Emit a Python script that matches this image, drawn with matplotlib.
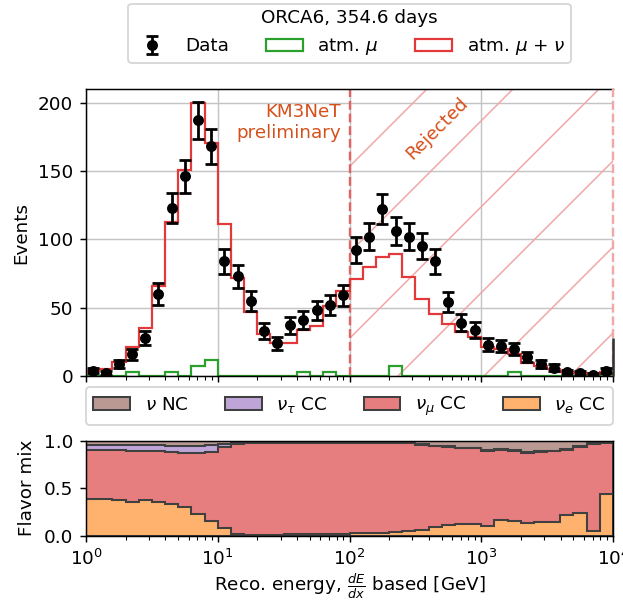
import numpy as np
import matplotlib
matplotlib.use('Agg')
import matplotlib.pyplot as plt
from matplotlib.patches import Patch
from matplotlib.colors import to_rgba

# 40 log bins between 1 GeV and 10 TeV
edges = np.logspace(0, 4, 41)
centers = np.sqrt(edges[:-1] * edges[1:])

# ===============================================
# DATA
# ===============================================
data_counts = [4, 2, 9, 16, 28, 60, 123, 146, 187, 168,
               84, 73, 55, 33, 24, 37, 41, 48, 52, 59,
               92, 102, 122, 106, 102, 95, 84, 54, 39, 34,
               23, 22, 20, 14, 9, 6, 3, 2, 1, 4]

atm_mu = [0, 0, 0, 3, 0, 0, 3, 0, 7, 12,
          0, 0, 0, 0, 0, 0, 3, 0, 3, 0,
          0, 0, 0, 7, 0, 0, 0, 0, 0, 0,
          0, 0, 3, 0, 0, 0, 0, 0, 0, 0]

atm_mu_nu = [4, 5.4, 10, 21.5, 35, 66, 112.6, 151, 200, 170.5,
             111, 72, 46.6, 30.8, 24, 24, 33.7, 36.6, 51, 62,
             71.3, 79.9, 87.4, 89.4, 72.3, 56.4, 45.4, 38.1, 32.5, 28.3,
             21.5, 19.5, 16, 9.8, 7.3, 4.9, 2.9, 2, 1.5, 2.9]

overflow = 28

frac_e = [0.390, 0.390, 0.382, 0.351, 0.382, 0.361, 0.337, 0.302, 0.228, 0.154,
          0.081, 0.025, 0.014, 0.008, 0.010, 0.020, 0.025, 0.025, 0.025, 0.025,
          0.028, 0.028, 0.030, 0.040, 0.055, 0.060, 0.091, 0.112, 0.123, 0.130,
          0.102, 0.172, 0.158, 0.137, 0.147, 0.147, 0.218, 0.239, 0.053, 0.435]
frac_mu = [0.508, 0.508, 0.516, 0.540, 0.513, 0.532, 0.547, 0.570, 0.639, 0.730,
           0.849, 0.943, 0.965, 0.970, 0.968, 0.958, 0.953, 0.953, 0.953, 0.953,
           0.950, 0.950, 0.948, 0.935, 0.915, 0.895, 0.849, 0.825, 0.796, 0.789,
           0.793, 0.733, 0.737, 0.733, 0.734, 0.741, 0.687, 0.694, 0.915, 0.540]
frac_tau = [0.060, 0.060, 0.057, 0.059, 0.055, 0.057, 0.062, 0.074, 0.079, 0.071,
            0.032, 0.010, 0.005, 0.005, 0.005, 0.005, 0.005, 0.005, 0.005, 0.005,
            0.005, 0.005, 0.005, 0.005, 0.005, 0.005, 0.005, 0.005, 0.005, 0.005,
            0.005, 0.005, 0.005, 0.005, 0.005, 0.005, 0.005, 0.005, 0.005, 0.005]
frac_nc = [0.042, 0.042, 0.045, 0.050, 0.050, 0.050, 0.054, 0.054, 0.054, 0.045,
           0.038, 0.022, 0.016, 0.017, 0.017, 0.017, 0.017, 0.017, 0.017, 0.017,
           0.017, 0.017, 0.017, 0.020, 0.025, 0.040, 0.055, 0.058, 0.076, 0.076,
           0.100, 0.090, 0.100, 0.125, 0.114, 0.107, 0.090, 0.062, 0.027, 0.020]

flavor_fracs = [frac_e, frac_mu, frac_tau, frac_nc]
flavor_labels = [r'$\nu_e$ CC', r'$\nu_\mu$ CC', r'$\nu_\tau$ CC', r'$\nu$ NC']
flavor_colors = ['tab:orange', 'tab:red', 'tab:purple', 'tab:brown']

# ===============================================
# FIGURE
# ===============================================
# small figure at high dpi -> wide hatch spacing like the original
DPI = 258
K = 132.5 / DPI  # size scale so fonts/lines keep their pixel size
W, H = 623, 602
plt.rcParams.update({
    'font.size': 10 * K,
    'hatch.linewidth': 0.8 * K,
    'axes.linewidth': 0.8 * K,
    'axes.labelpad': 4 * K,
    'xtick.major.size': 3.5 * K, 'xtick.minor.size': 2 * K,
    'ytick.major.size': 3.5 * K, 'ytick.minor.size': 2 * K,
    'xtick.major.width': 0.8 * K, 'xtick.minor.width': 0.6 * K,
    'ytick.major.width': 0.8 * K, 'ytick.minor.width': 0.6 * K,
    'xtick.major.pad': 3.5 * K, 'xtick.minor.pad': 3.4 * K,
    'ytick.major.pad': 3.5 * K, 'ytick.minor.pad': 3.4 * K,
    'legend.frameon': True,
    'patch.linewidth': 1.0 * K,
})

fig = plt.figure(figsize=(W / DPI, H / DPI), dpi=DPI)
ax = fig.add_axes([86 / W, 1 - 376 / H, 527 / W, 287 / H])
ax2 = fig.add_axes([86 / W, 1 - 536 / H, 527 / W, 95.5 / H], sharex=ax)

text_color = '#d6501c'
red = '#e3393b'
green = '#2ca02c'

# Rejected region
ax.fill_between([100, 1e4], 0, 2, transform=ax.get_xaxis_transform(),
                facecolor='none', edgecolor='#f2a4a4', lw=0,
                hatch='/', zorder=1)
ax.axvline(100, color='#e06464', ls='--', lw=1.3 * K, zorder=1.5)
ax.axvline(1e4, color='#f0a8a8', ls='--', lw=1.3 * K, zorder=3, clip_on=False)
ax.spines['right'].set_visible(False)

ax.grid(True, which='major', color='#c4c4c4', lw=0.8 * K)
ax.set_axisbelow(True)

ax.stairs(atm_mu, edges, color=green, lw=1.2 * K, zorder=2)
ax.stairs(atm_mu_nu, edges, color=red, lw=1.2 * K, zorder=2)
ax.vlines(1e4, 0, overflow, color='#333333', lw=1.4 * K, zorder=3, clip_on=False)

eb = ax.errorbar(centers, data_counts, yerr=np.sqrt(data_counts), fmt='o',
                 color='black', ms=4 * K, elinewidth=1.5 * K, capsize=3 * K,
                 capthick=1.5 * K, zorder=4)

ax.text(0.484, 0.952, 'KM3NeT\npreliminary', transform=ax.transAxes,
        ha='right', va='top', multialignment='right', color=text_color)
ax.text(0.666, 0.864, 'Rejected', transform=ax.transAxes, rotation=45,
        ha='center', va='center', color=text_color)

ax.set_xscale('log')
ax.set_xlim(1, 1e4)
ax.set_ylim(0, 210)
ax.set_yticks([0, 50, 100, 150, 200])
ax.set_ylabel('Events')
ax.tick_params(labelbottom=False)

leg = fig.legend(handles=[eb,
                          Patch(facecolor='none', edgecolor=green, lw=1.2 * K),
                          Patch(facecolor='none', edgecolor=red, lw=1.2 * K)],
                 labels=['Data', r'atm. $\mu$', r'atm. $\mu$ + $\nu$'],
                 loc='lower center', bbox_to_anchor=(349.5 / W, 1 - 63 / H),
                 ncol=3, title='ORCA6, 354.6 days', borderaxespad=0,
                 borderpad=0.3)
leg.get_frame().set_linewidth(1.0 * K)

# Flavor composition
bottom = np.zeros(len(edges) - 1)
handles = []
for frac, lab, col in zip(flavor_fracs, flavor_labels, flavor_colors):
    top = bottom + np.array(frac)
    ax2.stairs(top, edges, baseline=bottom, fill=True,
               facecolor=to_rgba(col, 0.6), edgecolor='#404040', lw=1.1 * K)
    handles.append(Patch(facecolor=to_rgba(col, 0.6), edgecolor='#404040',
                         lw=1.1 * K, label=lab))
    bottom = top

ax2.set_ylim(0, 1)
ax2.set_yticks([0, 0.5, 1.0])
ax2.set_ylabel('Flavor mix')
ax2.set_xlabel(r'Reco. energy, $\frac{dE}{dx}$ based [GeV]', labelpad=1 * K)

leg2 = fig.legend(handles=handles[::-1], loc='lower left',
                  bbox_to_anchor=(86 / W, 1 - 425 / H, 527 / W, 32 / H),
                  mode='expand', ncol=4, borderaxespad=0)
leg2.get_frame().set_linewidth(1.0 * K)

fig.align_ylabels([ax, ax2])
fig.savefig('out.png', dpi=DPI)
